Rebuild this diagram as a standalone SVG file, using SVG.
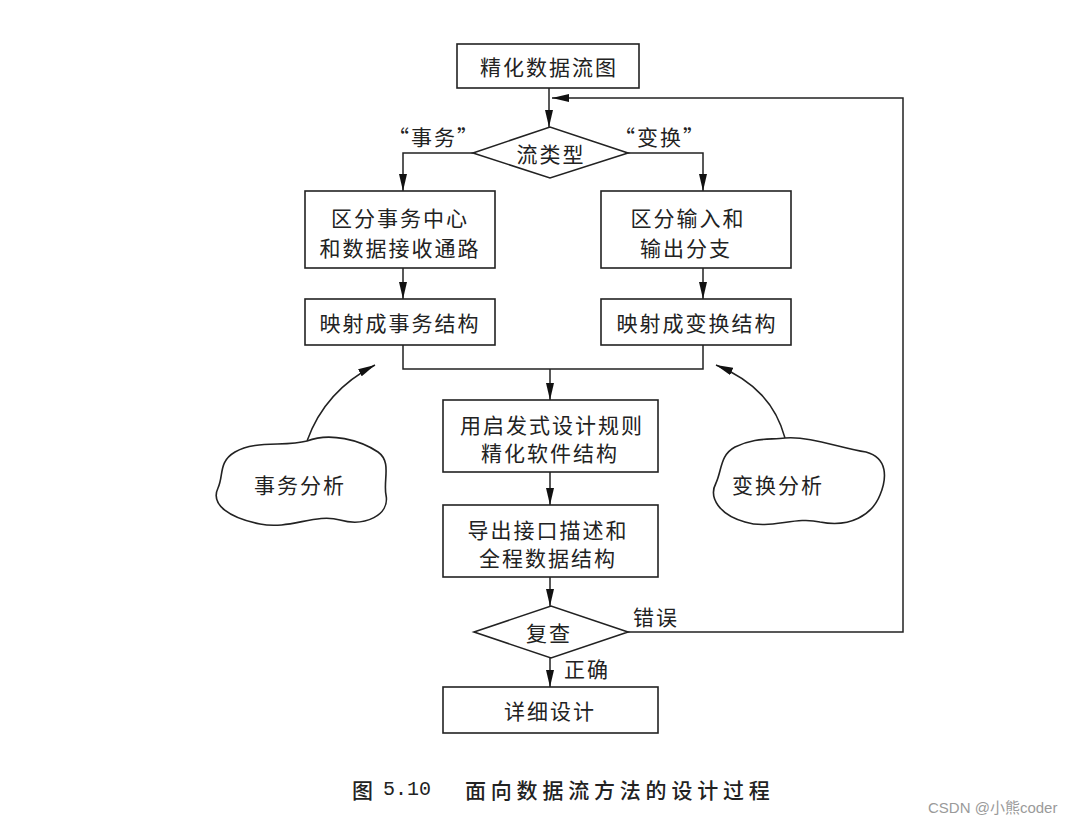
<svg xmlns="http://www.w3.org/2000/svg" width="1082" height="824" viewBox="0 0 1082 824">
<style>
.box{fill:#fff;stroke:#222;stroke-width:1.6}
.ln{fill:none;stroke:#222;stroke-width:1.5}
.t{font-family:"Noto Sans CJK SC","Liberation Sans",sans-serif;font-size:21px;fill:#222;letter-spacing:2px;text-anchor:middle;dominant-baseline:central}
.cap{font-family:"Noto Sans CJK SC","Liberation Serif",serif;font-size:21px;font-weight:500;fill:#222;dominant-baseline:central}
</style>
<defs>
<marker id="ah" markerUnits="userSpaceOnUse" markerWidth="17" markerHeight="8" refX="17" refY="4" orient="auto">
<path d="M0,0 L17,4 L0,8 Z" fill="#111"/>
</marker>
</defs>
<rect width="1082" height="824" fill="#fff"/>
<g id="connectors">
<line class="ln" x1="549" y1="88" x2="549" y2="127" marker-end="url(#ah)"/>
<polyline class="ln" points="628,632 903,632 903,98 552,98" marker-end="url(#ah)"/>
<polyline class="ln" points="473,153 403,153 403,191" marker-end="url(#ah)"/>
<polyline class="ln" points="628,153 703,153 703,191" marker-end="url(#ah)"/>
<line class="ln" x1="403" y1="268" x2="403" y2="299" marker-end="url(#ah)"/>
<line class="ln" x1="703" y1="268" x2="703" y2="299" marker-end="url(#ah)"/>
<polyline class="ln" points="403,345 403,369 703,369 703,345"/>
<line class="ln" x1="550" y1="369" x2="550" y2="400" marker-end="url(#ah)"/>
<line class="ln" x1="550" y1="472" x2="550" y2="505" marker-end="url(#ah)"/>
<line class="ln" x1="550" y1="577" x2="550" y2="606" marker-end="url(#ah)"/>
<line class="ln" x1="550" y1="658" x2="550" y2="687" marker-end="url(#ah)"/>
<path class="ln" d="M307 441 C318 410, 340 383, 375 365" marker-end="url(#ah)"/>
<path class="ln" d="M785 438 C776 405, 755 381, 716 365" marker-end="url(#ah)"/>
</g>
<g id="labels">
<text class="t" x="434" y="136">“事务”</text>
<text class="t" x="660" y="136">“变换”</text>
<text class="t" x="656" y="616">错误</text>
<text class="t" x="587" y="668">正确</text>
</g>
<g id="n1"><rect class="box" x="457" y="44" width="182" height="44"/><text class="t" x="549" y="66">精化数据流图</text></g>
<g id="n2"><polygon class="box" points="473,153 550,127 628,153 550,178"/><text class="t" x="551" y="153">流类型</text></g>
<g id="n3"><rect class="box" x="305" y="191" width="190" height="77"/><text class="t" x="400" y="217">区分事务中心</text><text class="t" x="400" y="247">和数据接收通路</text></g>
<g id="n4"><rect class="box" x="601" y="191" width="190" height="77"/><text class="t" x="688" y="217">区分输入和</text><text class="t" x="686" y="247">输出分支</text></g>
<g id="n5"><rect class="box" x="305" y="299" width="190" height="46"/><text class="t" x="400" y="322">映射成事务结构</text></g>
<g id="n6"><rect class="box" x="601" y="299" width="190" height="46"/><text class="t" x="697" y="322">映射成变换结构</text></g>
<g id="n7"><rect class="box" x="443" y="400" width="215" height="72"/><text class="t" x="552" y="424">用启发式设计规则</text><text class="t" x="550" y="452">精化软件结构</text></g>
<g id="n8"><rect class="box" x="443" y="505" width="215" height="72"/><text class="t" x="548" y="529">导出接口描述和</text><text class="t" x="548" y="557">全程数据结构</text></g>
<g id="n9"><polygon class="box" points="474,632 551,606 628,632 551,658"/><text class="t" x="549" y="632">复查</text></g>
<g id="n10"><rect class="box" x="443" y="687" width="215" height="46"/><text class="t" x="550" y="710">详细设计</text></g>
<g id="c1"><path class="box" d="M307 441 C330 432, 360 440, 378 452 C392 462, 383 480, 386 495 C390 515, 365 527, 340 520 C315 513, 290 530, 260 524 C230 518, 210 505, 218 488 C224 475, 218 462, 235 452 C255 440, 285 447, 307 441 Z"/><text class="t" x="300" y="484">事务分析</text></g>
<g id="c2"><path class="box" d="M785 438 C810 436, 840 448, 866 452 C888 458, 887 478, 880 495 C872 515, 850 528, 820 522 C795 516, 770 530, 745 522 C720 515, 708 498, 716 483 C722 470, 720 455, 735 447 C755 437, 770 440, 785 438 Z"/><text class="t" x="778" y="484">变换分析</text></g>
<g id="caption">
<text class="cap" x="352" y="789">图</text>
<text x="383" y="789" style="font-family:'Liberation Mono',monospace;font-size:20px;fill:#222;dominant-baseline:central">5.10</text>
<text class="cap" x="465" y="789" style="letter-spacing:4.8px">面向数据流方法的设计过程</text>
<text x="928" y="807" style="font-family:'Liberation Sans','Noto Sans CJK SC',sans-serif;font-size:15px;fill:#9a9a9a;dominant-baseline:central">CSDN @小熊coder</text>
</g>
</svg>
